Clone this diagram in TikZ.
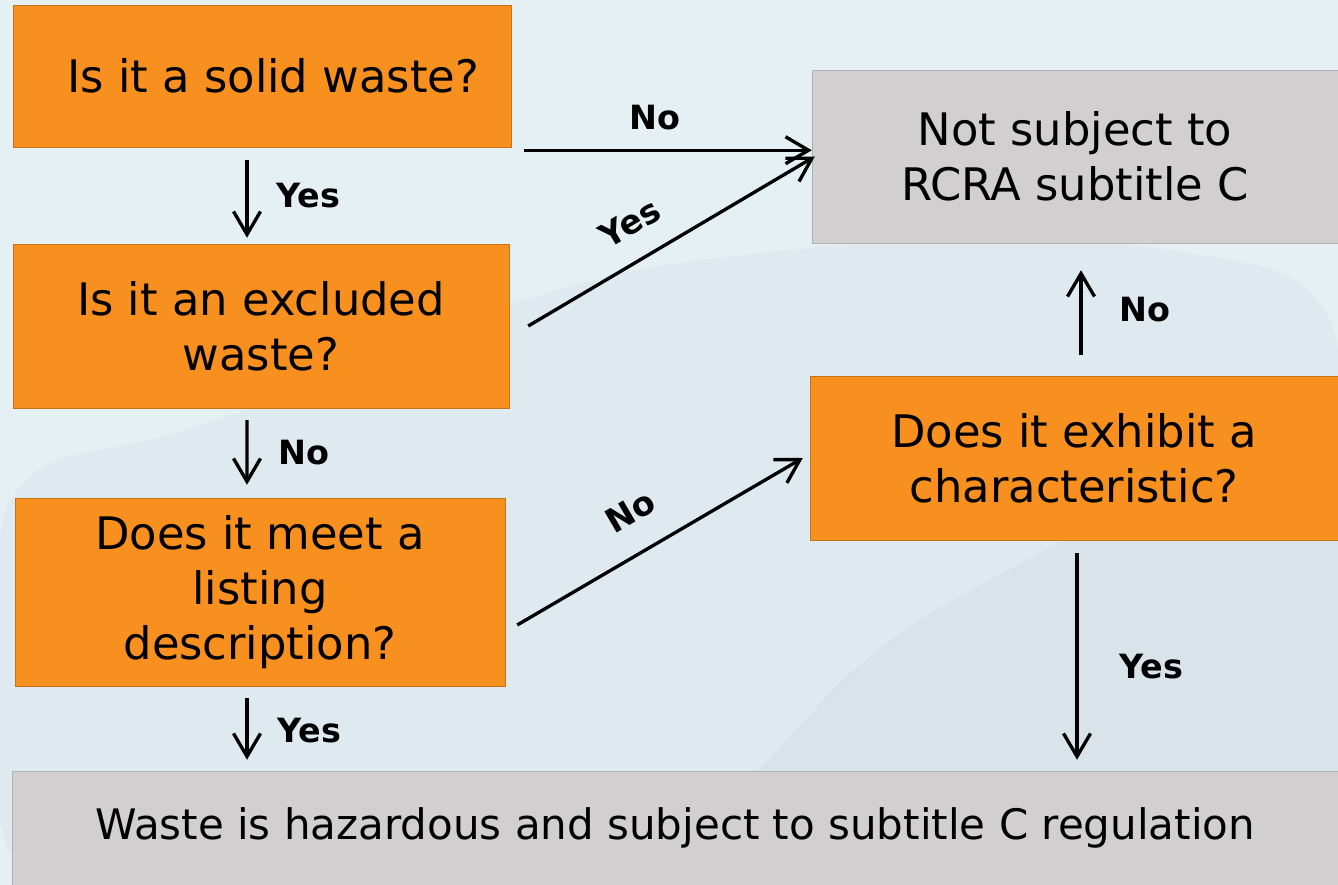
\documentclass[tikz,border=0pt]{standalone}
\usepackage{fontspec}
\setmainfont{DejaVu Sans}
\usetikzlibrary{arrows.meta,positioning}

\definecolor{qorange}{HTML}{F7901E}
\definecolor{qgray}{HTML}{D1CFD0}
\definecolor{skytone}{HTML}{E5F0F5}
\definecolor{hilltone}{HTML}{D6E3E9}

\tikzset{
  question/.style={fill=qorange, draw=qorange!80!black, line width=0.3pt,
    align=center, inner sep=0pt, font=\fontsize{25.5}{31.2}\selectfont},
  verdict/.style={fill=qgray, draw=qgray!85!black, line width=0.3pt,
    align=center, inner sep=0pt, font=\fontsize{25.5}{31.2}\selectfont},
  flow/.style={line width=1.9pt, -{Straight Barb[length=4.6mm,width=5.4mm]}},
  answer/.style={font=\fontsize{19}{22}\selectfont\bfseries, inner sep=0pt},
}

\begin{document}
\begin{tikzpicture}[x=0.02cm, y=-0.02cm]
  % backdrop: pale sky and faded hills
  \fill[skytone] (0,0) rectangle (1338,885);
  \fill[hilltone, opacity=0.45, rounded corners=40pt] (0,885) -- (0,470) -- (200,430)
    -- (430,330) -- (620,270) -- (800,248) -- (1000,232) -- (1200,252)
    -- (1338,285) -- (1338,885) -- cycle;
  \fill[hilltone!90!gray, opacity=0.3, rounded corners=40pt] (650,885) -- (880,640)
    -- (1100,520) -- (1338,430) -- (1338,885) -- cycle;
  \useasboundingbox (0,0) rectangle (1338,885);

  % questions
  \node[question, minimum width=9.96cm, minimum height=2.84cm] (solid) at (262,76)
    {\hspace*{0.45cm}Is it a solid waste?};
  \node[question, minimum width=9.92cm, minimum height=3.28cm] (excluded) at (261,326)
    {Is it an excluded\\waste?};
  \node[question, minimum width=9.8cm, minimum height=3.76cm] (listed) at (260,592)
    {Does it meet a\\listing\\description?};
  \node[question, minimum width=10.56cm, minimum height=3.28cm] (charac) at (1074,458)
    {Does it exhibit a\\characteristic?};

  % outcomes
  \node[verdict, minimum width=10.52cm, minimum height=3.46cm] (exempt) at (1075,156.5)
    {Not subject to\\RCRA subtitle C};
  \node[verdict, minimum width=26.52cm, minimum height=2.28cm,
    font=\fontsize{23.9}{28}\selectfont] (hazard) at (675,828)
    {Waste is hazardous and subject to subtitle C regulation};

  % down the left column
  \draw[flow, shorten <=0.26cm, shorten >=0.12cm]
    ([xshift=-0.3cm]solid.south) -- ([xshift=-0.28cm]excluded.north)
    node[answer, midway, right=0.56cm] {Yes};
  \draw[flow, shorten <=0.24cm, shorten >=0.26cm]
    ([xshift=-0.28cm]excluded.south) -- ([xshift=-0.26cm]listed.north)
    node[answer, midway, right=0.6cm] {No};
  \draw[flow, shorten <=0.24cm, shorten >=0.22cm]
    ([xshift=-0.26cm]listed.south) -- ([xshift=-0.26cm]listed.south |- hazard.north)
    node[answer, midway, right=0.58cm, yshift=-0.04cm] {Yes};

  % across to the right
  \draw[flow]
    ([shift={(0.26cm,-0.06cm)}]solid.south east) -- ([yshift=-0.06cm]solid.south east -| exempt.west)
    node[answer, midway, above=0.38cm, xshift=-0.26cm] {No};
  \draw[flow]
    ([xshift=0.38cm]excluded.east) -- ([xshift=0.06cm]exempt.west)
    node[answer, pos=0.42, sloped, above=0.46cm] {Yes};
  \draw[flow]
    ([shift={(0.24cm,-0.66cm)}]listed.east) -- ([xshift=-0.14cm]charac.west)
    node[answer, pos=0.47, sloped, above=0.54cm] {No};

  % right column
  \draw[flow, shorten <=0.42cm, shorten >=0.54cm]
    ([xshift=0.14cm]charac.north) -- ([xshift=0.14cm]charac.north |- exempt.south)
    node[answer, midway, right=0.74cm] {No};
  \draw[flow, shorten <=0.26cm, shorten >=0.22cm]
    ([xshift=0.06cm]charac.south) -- ([xshift=0.06cm]charac.south |- hazard.north)
    node[answer, midway, right=0.82cm, yshift=-0.23cm] {Yes};
\end{tikzpicture}
\end{document}
